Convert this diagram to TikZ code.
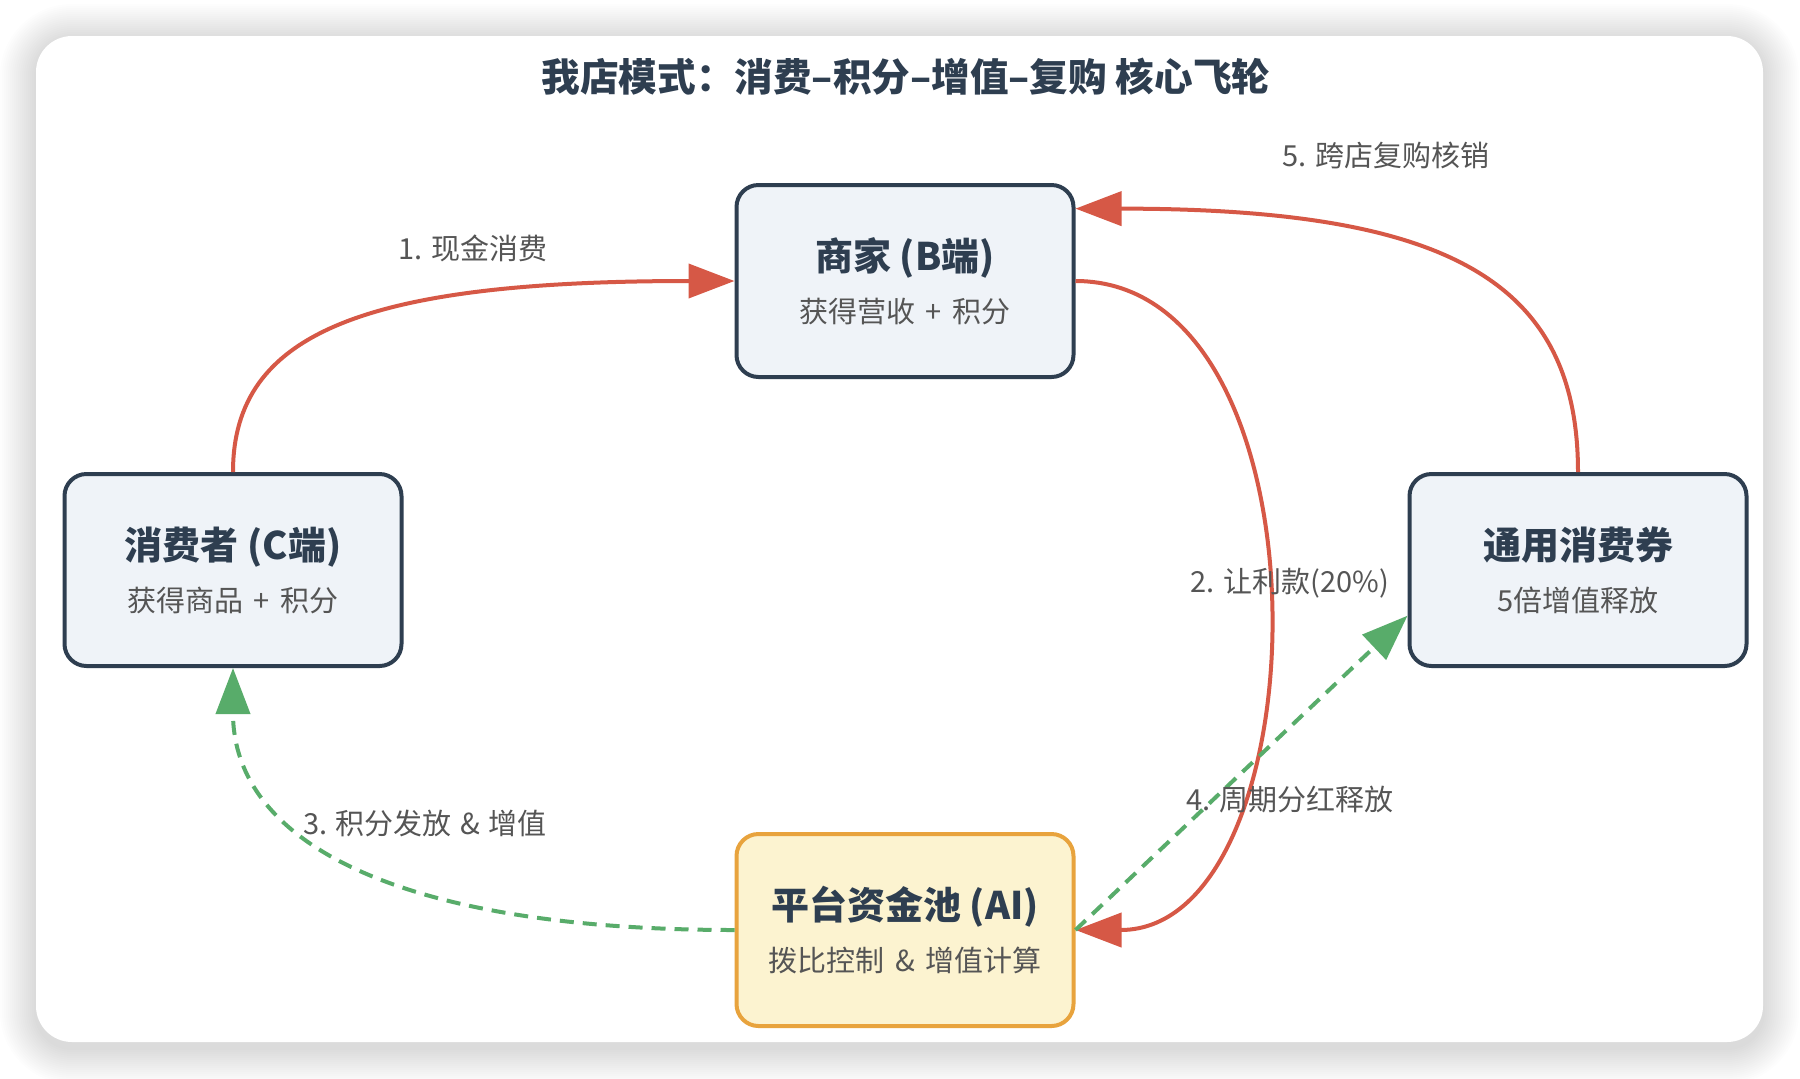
\documentclass[tikz,border=0pt]{standalone}
\usepackage{fontspec}
\setmainfont{Noto Sans CJK SC}
\usetikzlibrary{arrows.meta}
\definecolor{EdgeClr}{RGB}{46,62,80}
\definecolor{BoxClr}{RGB}{239,243,248}
\definecolor{PoolClr}{RGB}{252,243,208}
\definecolor{PoolEdgeClr}{RGB}{232,163,61}
\definecolor{CashClr}{RGB}{214,88,70}
\definecolor{BonusClr}{RGB}{88,172,106}
\definecolor{NoteClr}{RGB}{85,85,85}

\begin{document}
\begin{tikzpicture}[x=.5pt,y=-.5pt,
  party/.style={draw=EdgeClr,fill=BoxClr,line width=2pt,rounded corners=11pt,
    minimum width=168.5pt,minimum height=96pt,align=center,text=EdgeClr,
    font=\fontsize{14.5}{26}\selectfont},
  cash/.style={draw=CashClr,line width=2pt,-{Triangle[length=23pt,width=17pt]}},
  bonus/.style={draw=BonusClr,line width=2pt,dash pattern=on 7pt off 4.5pt,
    -{Triangle[length=23pt,width=17pt]}},
  note/.style={text=NoteClr,font=\fontsize{14.5}{17}\selectfont}]
\useasboundingbox (0,0) rectangle (1800,1078);
\fill[white] (0,0) rectangle (1800,1078);
% soft shadow under the card
\foreach \i in {1,...,18}
  \fill[black,opacity=.008,rounded corners=18pt+\i pt]
    (36-2*\i,40-2*\i) rectangle (1763+2*\i,1048+2*\i);
\fill[white,rounded corners=18pt] (36,36) rectangle (1763,1042);

\node[text=EdgeClr,font=\bfseries\fontsize{19.3}{22}\selectfont] (title) at (906,77)
  {我店模式：消费–积分–增值–复购 核心飞轮};

\node[party] (merchant) at (905,281)
  {{\bfseries\fontsize{19}{26}\selectfont 商家 (B端)}\\{\color{NoteClr}获得营收\hspace{.35em}+\hspace{.35em}积分}};
\node[party] (consumer) at (233,570)
  {{\bfseries\fontsize{19}{26}\selectfont 消费者 (C端)}\\{\color{NoteClr}获得商品\hspace{.35em}+\hspace{.35em}积分}};
\node[party] (voucher) at (1578,570)
  {{\bfseries\fontsize{19}{26}\selectfont 通用消费券}\\{\color{NoteClr}5倍增值释放}};
\node[party,draw=PoolEdgeClr,fill=PoolClr] (pool) at (905,930)
  {{\bfseries\fontsize{19}{26}\selectfont 平台资金池 (AI)}\\{\color{NoteClr}拨比控制\hspace{.35em}\&\hspace{.35em}增值计算}};

\draw[cash] (consumer.north) .. controls +(0,-140) and +(-368,0) .. (merchant.west);
\draw[cash] (merchant.east) .. controls +(262,0) and +(248,0) .. (pool.east);
\draw[bonus] (pool.west) .. controls +(-335,0) and +(0,175) .. (consumer.south);
\draw[bonus] (pool.east) -- (voucher.195);
\draw[cash] (voucher.north) .. controls +(0,-193) and +(369,0) .. (merchant.23);

\node[note] (cashlbl) at (473,248) {1. 现金消费};
\node[note] (sharelbl) at (1290,583) {2. 让利款(20\%)};
\node[note] (pointlbl) at (425,823) {3. 积分发放\hspace{.3em}\&\hspace{.3em}增值};
\node[note] (bonuslbl) at (1290,800) {4. 周期分红释放};
\node[note] (redeemlbl) at (1386,155) {5. 跨店复购核销};
\end{tikzpicture}
\end{document}
